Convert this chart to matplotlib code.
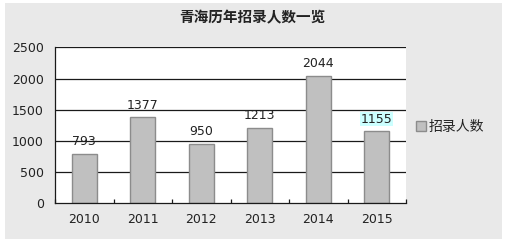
import matplotlib
matplotlib.use("Agg")
import matplotlib.pyplot as plt
from matplotlib.patches import Rectangle, Patch

plt.rcParams['font.family'] = ['DejaVu Sans', 'Noto Sans CJK SC']

years = ['2010', '2011', '2012', '2013', '2014', '2015']
values = [793, 1377, 950, 1213, 2044, 1155]
series_name = '招录人数'
title = '青海历年招录人数一览'
yticks = [0, 500, 1000, 1500, 2000, 2500]

fig = plt.figure(figsize=(5.07, 2.44), dpi=100, facecolor='white')
fig.patches.append(Rectangle((5/507, 5/244), 497/507, 236/244, transform=fig.transFigure,
                             facecolor='#E9E9E9', edgecolor='none', zorder=-10))

ax = fig.add_axes([55/507, 40.7/244, 351/507, 156/244])
ax.set_facecolor('white')
x = list(range(len(years)))
ax.bar(x, values, width=0.42, color='#C0C0C0', edgecolor='#8C8C8C', linewidth=1.0, zorder=3)

ax.set_xlim(-0.5, len(years) - 0.5)
ax.set_ylim(0, 2500)
ax.set_yticks(yticks)
ax.set_yticklabels([str(v) for v in yticks])
for v in yticks[1:]:
    ax.axhline(v, color='#1a1a1a', linewidth=0.9, zorder=1)

ax.set_xticks(x)
ax.set_xticklabels(years)
ax.set_xticks([i - 0.5 for i in range(len(years) + 1)], minor=True)
ax.tick_params(axis='x', which='major', length=0, pad=7, labelsize=9, labelcolor='#222222')
ax.tick_params(axis='x', which='minor', length=3, direction='in', width=0.9, color='#1a1a1a')
ax.tick_params(axis='y', length=0, pad=8, labelsize=9, labelcolor='#222222')

for s in ['top', 'right']:
    ax.spines[s].set_visible(False)
for s in ['left', 'bottom']:
    ax.spines[s].set_color('#1a1a1a')
    ax.spines[s].set_linewidth(0.9)
ax.spines['bottom'].set_zorder(5)

for i, v in enumerate(values):
    kw = {}
    if i == len(values) - 1:
        kw['bbox'] = dict(facecolor='#CCFFFF', edgecolor='none', pad=0.5)
    ax.annotate(str(v), (i, v), xytext=(0, 4), textcoords='offset points',
                ha='center', va='bottom', fontsize=9, color='#222222', zorder=6, **kw)

fig.text(252/507, 1 - 17/244, title, ha='center', va='center', fontsize=10.5,
         fontweight='bold', color='#222222', family=['Noto Sans CJK SC', 'DejaVu Sans'])

handle = Patch(facecolor='#C0C0C0', edgecolor='#8C8C8C', linewidth=1.0)
leg = fig.legend([handle], [series_name], loc='center left',
                 bbox_to_anchor=(416/507, 1 - 127/244), frameon=False,
                 borderpad=0, borderaxespad=0, handlelength=0.75, handleheight=0.75,
                 handletextpad=0.15, prop={'family': ['Noto Sans CJK SC'], 'size': 10})
for t in leg.get_texts():
    t.set_color('#222222')

fig.savefig('out.png', dpi=100, facecolor='white')
